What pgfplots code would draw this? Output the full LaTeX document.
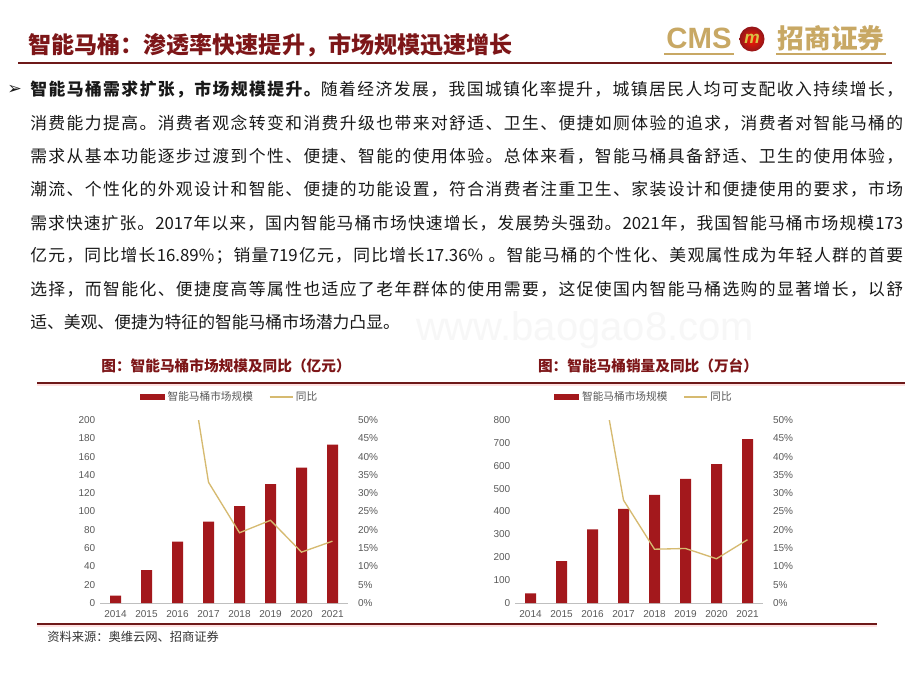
\documentclass[border=0pt]{standalone}
\usepackage{fontspec}
\usepackage{pgfplots}
\pgfplotsset{compat=1.18}
\setmainfont{Noto Sans CJK SC}
\newfontfamily\arial{Liberation Sans}
\newfontfamily\dejavu{DejaVu Sans}
\definecolor{titlered}{RGB}{125,22,24}
\definecolor{barred}{RGB}{163,24,28}
\definecolor{linegold}{RGB}{214,186,112}
\definecolor{logogold}{RGB}{200,168,100}
\definecolor{tickgray}{RGB}{89,89,89}
\definecolor{axisgray}{RGB}{191,191,191}
\definecolor{framered}{RGB}{110,25,25}
\definecolor{bodytext}{RGB}{25,25,25}
% inter-character stretch for CJK justification
\XeTeXinterchartokenstate=1
\newcount\cc
\cc="4E00
\loop \XeTeXcharclass\cc=7 \ifnum\cc<"9FFF \advance\cc 1 \repeat
\cc="3000
\loop \XeTeXcharclass\cc=7 \ifnum\cc<"303F \advance\cc 1 \repeat
\cc="FF00
\loop \XeTeXcharclass\cc=7 \ifnum\cc<"FFEF \advance\cc 1 \repeat
\XeTeXinterchartoks 7 7 = {\hskip 0pt plus 1pt\relax}
\XeTeXinterchartoks 0 7 = {\hskip 0pt plus 1pt\relax}
\XeTeXinterchartoks 7 0 = {\hskip 0pt plus 1pt\relax}
\pgfplotsset{
  basechart/.style={
    scale only axis, width=186pt, height=137.25pt,
    xmin=-0.5, xmax=7.5, anchor=south west,
    tick label style={font=\arial\fontsize{7.5}{9}\selectfont, text=tickgray},
    /pgf/number format/assume math mode=true,
    major tick length=0pt, clip=true,
  },
}
\newcommand\bodyline[2]{\node[anchor=west, inner sep=0pt, text=bodytext, font=\fontsize{12.6}{14}\selectfont] at (30,#1) {\hbox to 654.75pt{#2}};}
\begin{document}
\begin{tikzpicture}
\begin{scope}[x=0.75pt,y=-0.75pt]
\useasboundingbox (0,0) rectangle (920,690);
\fill[white] (0,0) rectangle (920,690);
% watermark
\node[text=black!3, font=\arial\fontsize{30}{30}\selectfont] at (585,330) {www.baogao8.com};
% title
\node[anchor=west, inner sep=0pt, text=titlered, font=\bfseries\fontsize{17.3}{20}\selectfont] at (28,45) {智能马桶：渗透率快速提升，市场规模迅速增长};
\draw[framered, line width=1.5pt] (18,63) -- (892,63);
% logo
\node[text=logogold, font=\arial\bfseries\fontsize{22}{24}\selectfont, inner sep=0pt] at (699,38) {CMS};
\draw[logogold, line width=0.8pt] (664,54) -- (734,54);
\shade[inner color=red!80!orange, outer color=barred!90!black] (752,39) circle (12.5);
\node[text=logogold!70!yellow, font=\arial\bfseries\itshape\fontsize{13}{13}\selectfont, inner sep=0pt] at (752,39) {m};
\node[text=logogold, font=\bfseries\fontsize{20}{22}\selectfont, inner sep=0pt] at (831,38) {招商证券};
\draw[logogold, line width=0.8pt] (776,54) -- (886,54);
% body text
\node[anchor=west, inner sep=0pt, text=bodytext, font=\dejavu\fontsize{13}{14}\selectfont] at (7,90) {➢};
\bodyline{90}{{\bfseries 智能马桶需求扩张，市场规模提升。}随着经济发展，我国城镇化率提升，城镇居民人均可支配收入持续增长，}
\bodyline{123.2}{消费能力提高。消费者观念转变和消费升级也带来对舒适、卫生、便捷如厕体验的追求，消费者对智能马桶的}
\bodyline{156.4}{需求从基本功能逐步过渡到个性、便捷、智能的使用体验。总体来看，智能马桶具备舒适、卫生的使用体验，}
\bodyline{189.6}{潮流、个性化的外观设计和智能、便捷的功能设置，符合消费者注重卫生、家装设计和便捷使用的要求，市场}
\bodyline{222.8}{需求快速扩张。2017年以来，国内智能马桶市场快速增长，发展势头强劲。2021年，我国智能马桶市场规模173}
\bodyline{256}{亿元，同比增长16.89\%；销量719亿元，同比增长17.36\% 。智能马桶的个性化、美观属性成为年轻人群的首要}
\bodyline{289.2}{选择，而智能化、便捷度高等属性也适应了老年群体的使用需要，这促使国内智能马桶选购的显著增长，以舒}
\node[anchor=west, inner sep=0pt, text=bodytext, font=\fontsize{12.6}{14}\selectfont] at (30,322.4) {适、美观、便捷为特征的智能马桶市场潜力凸显。};
% chart titles and frame
\node[text=titlered, font=\bfseries\fontsize{11}{13}\selectfont, inner sep=0pt] at (226,366) {图：智能马桶市场规模及同比（亿元）};
\node[text=titlered, font=\bfseries\fontsize{11}{13}\selectfont, inner sep=0pt] at (648,366) {图：智能马桶销量及同比（万台）};
\draw[red!12, line width=1pt] (37,385) -- (905,385);
\draw[framered, line width=1.2pt] (37,383) -- (905,383);
\draw[red!12, line width=1pt] (37,626) -- (877,626);
\draw[framered, line width=1.2pt] (37,624) -- (877,624);
\node[anchor=west, inner sep=0pt, text=black!80, font=\fontsize{9.2}{11}\selectfont] at (47,637) {资料来源：奥维云网、招商证券};
\end{scope}
% ---------- left chart ----------
\begin{axis}[basechart, at={(75pt,-452.25pt)},
  ymin=0, ymax=200, ytick={0,20,...,200},
  xtick={0,...,7}, xticklabels={2014,2015,2016,2017,2018,2019,2020,2021},
  xticklabel style={yshift=-2pt},
  axis x line*=bottom, axis y line*=left,
  y axis line style={draw=none}, x axis line style={draw=axisgray, line width=0.75pt, -},
  legend columns=2,
  legend style={at={(0.524,1.126)}, anchor=center, draw=none, fill=none,
    font=\fontsize{8}{10}\selectfont, text=tickgray,
    /tikz/every even column/.append style={column sep=10pt}},
]
\addplot[ybar, bar width=8.25pt, fill=barred, draw=none,
  legend image code/.code={\fill[barred] (0pt,-2.25pt) rectangle (18.75pt,2.25pt);}]
  coordinates {(0,8) (1,36) (2,67) (3,89) (4,106) (5,130) (6,148) (7,173)};
\addlegendentry{智能马桶市场规模}
\addlegendimage{legend image code/.code={\draw[linegold, line width=1pt] (0pt,0pt) -- (17.25pt,0pt);}}
\addlegendentry{同比}
\end{axis}
\begin{axis}[basechart, at={(75pt,-452.25pt)},
  ymin=0, ymax=50, ytick={0,5,...,50},
  yticklabel={\pgfmathprintnumber{\tick}\%},
  axis x line=none, axis y line*=right, y axis line style={draw=none},
  yticklabel style={xshift=4pt},
]
\addplot[linegold, line width=1pt] coordinates {(2,86) (3,33) (4,19.2) (5,22.6) (6,13.9) (7,16.9)};
\end{axis}
% ---------- right chart ----------
\begin{axis}[basechart, at={(386.25pt,-452.25pt)},
  ymin=0, ymax=800, ytick={0,100,...,800},
  xtick={0,...,7}, xticklabels={2014,2015,2016,2017,2018,2019,2020,2021},
  xticklabel style={yshift=-2pt},
  axis x line*=bottom, axis y line*=left,
  y axis line style={draw=none}, x axis line style={draw=axisgray, line width=0.75pt, -},
  legend columns=2,
  legend style={at={(0.522,1.125)}, anchor=center, draw=none, fill=none,
    font=\fontsize{8}{10}\selectfont, text=tickgray,
    /tikz/every even column/.append style={column sep=10pt}},
]
\addplot[ybar, bar width=8.25pt, fill=barred, draw=none,
  legend image code/.code={\fill[barred] (0pt,-2.25pt) rectangle (18.75pt,2.25pt);}]
  coordinates {(0,42) (1,183) (2,322) (3,412) (4,473) (5,543) (6,607) (7,716)};
\addlegendentry{智能马桶市场规模}
\addlegendimage{legend image code/.code={\draw[linegold, line width=1pt] (0pt,0pt) -- (17.25pt,0pt);}}
\addlegendentry{同比}
\end{axis}
\begin{axis}[basechart, at={(386.25pt,-452.25pt)},
  ymin=0, ymax=50, ytick={0,5,...,50},
  yticklabel={\pgfmathprintnumber{\tick}\%},
  axis x line=none, axis y line*=right, y axis line style={draw=none},
  yticklabel style={xshift=4pt},
]
\addplot[linegold, line width=1pt] coordinates {(2,76) (3,28.1) (4,14.7) (5,14.9) (6,12.1) (7,17.3)};
\end{axis}
\end{tikzpicture}
\end{document}
